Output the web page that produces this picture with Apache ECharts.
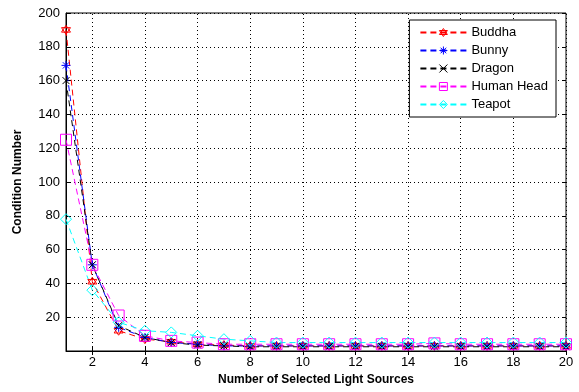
<!DOCTYPE html>
<html>
<head>
<meta charset="utf-8">
<script src="https://cdn.jsdelivr.net/npm/echarts@6/dist/echarts.min.js"></script>
<style>
  html, body { margin: 0; padding: 0; background: #fff; }
  #container { width: 579px; height: 392px; }
</style>
</head>
<body>
<div id="container"></div>
<script>
// number of selected light sources (x)
const lightSources = [1, 2, 3, 4, 5, 6, 7, 8, 9, 10, 11, 12, 13, 14, 15, 16, 17, 18, 19, 20];
const buddha = [190, 41, 12, 7, 5.5, 4, 3.5, 3, 3, 3, 3, 3, 3, 3, 3, 3, 3, 3, 3, 3];
const bunny = [169, 51, 14, 8, 5, 4, 3, 3, 3, 3, 3, 3, 3, 3, 3, 3, 3, 3, 3, 3];
const dragon = [160, 51, 15, 8, 5, 3.5, 3, 2.5, 2.5, 2.5, 2.5, 2.5, 2.5, 2.5, 2.5, 2.5, 2.5, 2.5, 2.5, 2.5];
const humanHead = [125, 51, 21, 9, 6, 5, 4, 4, 4, 4, 4, 4, 4, 4, 4.5, 4, 4, 4, 4, 4];
const teapot = [78, 36, 17, 12, 11, 9, 7, 6, 5, 5, 5, 5, 5, 5, 5, 5, 5, 5, 5, 5];
const xTicks = [2, 4, 6, 8, 10, 12, 14, 16, 18, 20];

const symHex = 'path://M0,-10L8.66,5L-8.66,5Z M0,10L8.66,-5L-8.66,-5Z';
const symStar = 'path://M0,-10L0,10 M-10,0L10,0 M-7,-7L7,7 M-7,7L7,-7';
const symX = 'path://M-7,-7L7,7 M-7,7L7,-7';
const font = 'Liberation Sans';

function mk(name, data, color, symbol, size) {
  return {
    name: name,
    type: 'line',
    data: lightSources.map((x, i) => [x, data[i]]),
    symbol: symbol,
    symbolSize: size,
    lineStyle: { color: color, width: 1, type: [6, 4] },
    itemStyle: { color: 'rgba(0,0,0,0)', borderColor: color, borderWidth: 1 },
    emphasis: { disabled: true },
    z: 3
  };
}

const graph = echarts.init(document.getElementById('container'));
const series = [
  mk('Buddha', buddha, '#ff0000', symHex, 9),
  mk('Bunny', bunny, '#0000ff', symStar, 9),
  mk('Dragon', dragon, '#000000', symX, 7),
  mk('Human Head', humanHead, '#ff00ff', 'rect', 11),
  mk('Teapot', teapot, '#00ffff', 'diamond', 11)
];
// dotted vertical grid lines only at the even x ticks
series[0].markLine = {
  silent: true,
  symbol: 'none',
  label: { show: false },
  lineStyle: { color: '#000', width: 1, type: [1, 3] },
  data: xTicks.map((v) => ({ xAxis: v })),
  z: 1
};

const option = {
  animation: false,
  grid: {
    left: 66, right: 13, top: 13, bottom: 41,
    show: true, borderColor: '#000', borderWidth: 1
  },
  legend: {
    right: 23, top: 20,
    orient: 'vertical',
    itemWidth: 46, itemHeight: 10, itemGap: 5,
    padding: [6, 8, 6, 10],
    backgroundColor: '#fff',
    borderColor: '#000', borderWidth: 1,
    textStyle: { fontFamily: font, fontSize: 13, color: '#000' },
    itemStyle: { color: 'rgba(0,0,0,0)', borderColor: 'inherit', borderWidth: 1 },
    data: ['Buddha', 'Bunny', 'Dragon', 'Human Head', 'Teapot']
  },
  xAxis: [{
    type: 'value',
    min: 1, max: 20,
    name: 'Number of Selected Light Sources',
    nameLocation: 'middle', nameGap: 22,
    nameTextStyle: { fontFamily: font, fontSize: 12, fontWeight: 'bold', color: '#000' },
    axisLine: { lineStyle: { color: '#000' } },
    axisTick: { inside: true, length: 4, customValues: xTicks, lineStyle: { color: '#000' } },
    axisLabel: { customValues: xTicks, fontFamily: font, fontSize: 13, color: '#000', margin: 5 },
    splitLine: { show: false }
  }, {
    type: 'value',
    position: 'top',
    min: 1, max: 20,
    axisLine: { show: false },
    axisTick: { inside: true, length: 4, customValues: xTicks, lineStyle: { color: '#000' } },
    axisLabel: { show: false },
    splitLine: { show: false }
  }],
  yAxis: [{
    type: 'value',
    min: 0, max: 200, interval: 20,
    name: 'Condition Number',
    nameLocation: 'middle', nameGap: 42,
    nameTextStyle: { fontFamily: font, fontSize: 12, fontWeight: 'bold', color: '#000' },
    axisLine: { show: true, lineStyle: { color: '#000' } },
    axisTick: { show: true, inside: true, length: 4, lineStyle: { color: '#000' } },
    axisLabel: {
      fontFamily: font, fontSize: 13, color: '#000', margin: 6,
      formatter: (v) => (v === 0 ? '' : v)
    },
    splitLine: { show: true, lineStyle: { color: '#000', type: [1, 3] } }
  }, {
    type: 'value',
    position: 'right',
    min: 0, max: 200, interval: 20,
    axisLine: { show: false },
    axisTick: { show: true, inside: true, length: 4, lineStyle: { color: '#000' } },
    axisLabel: { show: false },
    splitLine: { show: false }
  }],
  series: series
};
graph.setOption(option);
</script>
</body>
</html>
